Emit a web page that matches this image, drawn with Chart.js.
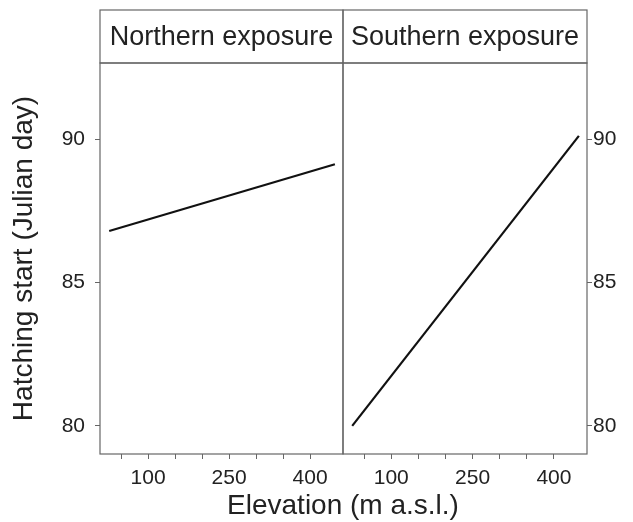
<!DOCTYPE html>
<html>
<head>
<meta charset="utf-8">
<script src="https://cdn.jsdelivr.net/npm/chart.js@4"></script>
<style>
  body { margin: 0; background: #fff; }
  #wrap { position: relative; width: 633px; height: 522px; }
  #wrap canvas { position: absolute; left: 0; top: 0; }
</style>
</head>
<body>
<div id="wrap">
  <canvas id="northChart" width="633" height="522"></canvas>
  <canvas id="southChart" width="633" height="522"></canvas>
</div>
<script>
// datos
const elevation = [28, 446];
const northStart = [86.8, 89.13];
const southStart = [80.0, 90.12];

const panelNames = ['Northern exposure', 'Southern exposure'];
const xTickValues = [50, 100, 150, 200, 250, 300, 350, 400];
const xTickLabels = [100, 250, 400];
const yTickValues = [80, 85, 90];

const xTitle = 'Elevation (m a.s.l.)';
const yTitle = 'Hatching start (Julian day)';

const fuente = 'Liberation Sans, Arial, Helvetica, sans-serif';
const gris = '#666';
const texto = '#222';

// caja del panel y la tira con el nombre
const stripPlugin = {
    id: 'strip',
    afterDraw(chart, args, opts) {
        const ctx = chart.ctx;
        const a = chart.chartArea;
        ctx.save();
        ctx.strokeStyle = gris;
        ctx.lineWidth = 1.2;
        ctx.strokeRect(a.left, a.top, a.right - a.left, a.bottom - a.top);
        ctx.strokeRect(a.left, 10, a.right - a.left, a.top - 10);
        ctx.fillStyle = texto;
        ctx.font = '27px ' + fuente;
        ctx.textAlign = 'center';
        ctx.textBaseline = 'middle';
        ctx.fillText(opts.text, (a.left + a.right) / 2, (10 + a.top) / 2 + 1);
        if (opts.xTitle) {
            ctx.font = '28px ' + fuente;
            ctx.fillText(opts.xTitle, opts.xTitleX, 506);
        }
        ctx.restore();
    }
};

function makePoints(ys) {
    return elevation.map((x, i) => ({ x: x, y: ys[i] }));
}

function crearPanel(canvasId, values, name, lado) {
    const izquierda = lado === 'left';
    const canvas = document.getElementById(canvasId);
    return new Chart(canvas.getContext('2d'), {
        type: 'line',
        data: {
            datasets: [{
                data: makePoints(values),
                borderColor: '#111',
                borderWidth: 2.2,
                pointRadius: 0,
                tension: 0
            }]
        },
        options: {
            responsive: false,
            animation: false,
            events: [],
            layout: {
                padding: izquierda ? { left: 0, top: 63, right: 290, bottom: 0 }
                                   : { left: 343, top: 63, right: 0, bottom: 0 }
            },
            plugins: {
                legend: { display: false },
                tooltip: { enabled: false },
                strip: {
                    text: name,
                    xTitle: izquierda ? null : xTitle,
                    xTitleX: 343
                }
            },
            scales: {
                x: {
                    type: 'linear',
                    min: 11,
                    max: 461,
                    afterBuildTicks: s => { s.ticks = xTickValues.map(v => ({ value: v })); },
                    afterFit: s => { s.height = 68; },
                    border: { display: false },
                    grid: { drawOnChartArea: false, drawTicks: true, tickLength: 5, color: gris },
                    ticks: {
                        maxRotation: 0,
                        autoSkip: false,
                        padding: 7,
                        color: texto,
                        font: { family: fuente, size: 21 },
                        callback: v => xTickLabels.includes(v) ? String(v) : ''
                    }
                },
                y: {
                    type: 'linear',
                    position: lado,
                    min: 79.02,
                    max: 92.66,
                    afterBuildTicks: s => { s.ticks = yTickValues.map(v => ({ value: v })); },
                    afterFit: s => { s.width = izquierda ? 100 : 46; },
                    border: { display: false },
                    grid: { drawOnChartArea: false, drawTicks: true, tickLength: 5, color: gris },
                    title: {
                        display: izquierda,
                        text: yTitle,
                        color: texto,
                        font: { family: fuente, size: 28 },
                        padding: { top: 7, bottom: 0 }
                    },
                    ticks: {
                        padding: izquierda ? 10 : 1,
                        color: texto,
                        font: { family: fuente, size: 21 }
                    }
                }
            }
        },
        plugins: [stripPlugin]
    });
}

crearPanel('northChart', northStart, panelNames[0], 'left');
crearPanel('southChart', southStart, panelNames[1], 'right');
</script>
</body>
</html>
